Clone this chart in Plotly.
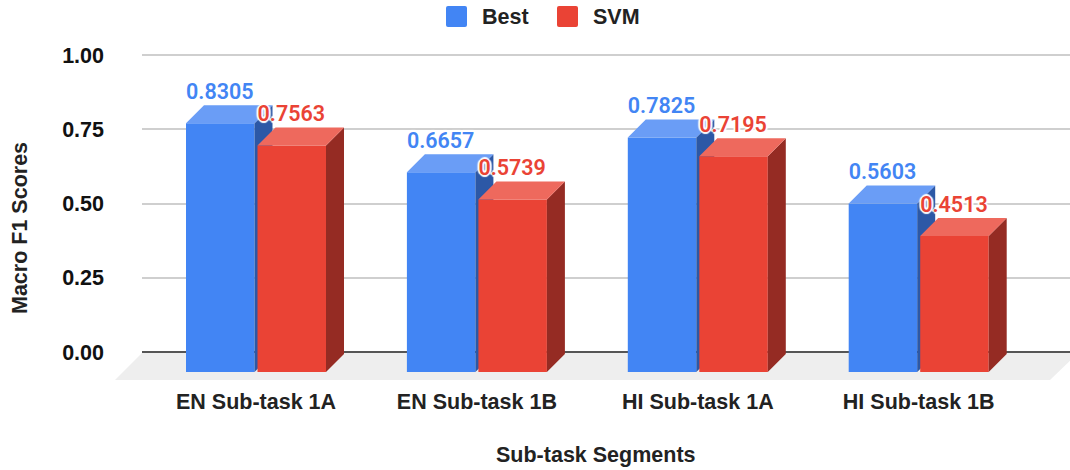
"""Google Sheets style pseudo-3D column chart: Best vs SVM macro F1 scores."""

import plotly.graph_objects as go

categories = ["EN Sub-task 1A", "EN Sub-task 1B", "HI Sub-task 1A", "HI Sub-task 1B"]
best_scores = [0.8305, 0.6657, 0.7825, 0.5603]
svm_scores = [0.7563, 0.5739, 0.7195, 0.4513]
y_ticks = [0, 0.25, 0.5, 0.75, 1]

WIDTH, HEIGHT = 1070, 470
PLOT_L, PLOT_R, PLOT_T, PLOT_B = 142, 1070, 50, 380
ZERO_PX, UNIT_PX = 352, 297      # pixel row of y=0, pixels per 1.0 on y
CAT0_PX, CAT_PX = 256, 220.9     # pixel column of first category, pixels per category

# extrusion of the fake 3D boxes, in data units
DEPTH_X = 18 / CAT_PX
DEPTH_Y = 18 / UNIT_PX
BASE = -20 / UNIT_PX
BAR_W = 68.5 / CAT_PX
BEST_OFFSET = -70 / CAT_PX
SVM_OFFSET = 1.5 / CAT_PX

FONT = "Liberation Sans"
LABEL_FONT = "Roboto"
TEXT_SIZE = 21.5
HALO = "-2px 0 1px #fff, 2px 0 1px #fff, 0 2px 1px #fff, 0 -2px 1px #fff"


def paper_x(px):
    return (px - PLOT_L) / (PLOT_R - PLOT_L)


def paper_y(px):
    return (PLOT_B - px) / (PLOT_B - PLOT_T)


def add_series(fig, name, values, offset, front, top, side, xa, ya):
    """Front faces as bars, top and side faces as filled polygons, then the labels."""
    xs = list(range(len(values)))
    fig.add_trace(go.Bar(
        x=xs, y=[v - DEPTH_Y - BASE for v in values], base=BASE, width=BAR_W,
        offset=offset, name=name,
        marker=dict(color=front, line=dict(width=0)), xaxis=xa, yaxis=ya,
    ))
    top_x, top_y, side_x, side_y = [], [], [], []
    for x, v in zip(xs, values):
        x0 = x + offset
        x1 = x0 + BAR_W
        top_x += [x0, x0 + DEPTH_X, x1 + DEPTH_X, x1, None]
        top_y += [v - DEPTH_Y, v, v, v - DEPTH_Y, None]
        side_x += [x1, x1 + DEPTH_X, x1 + DEPTH_X, x1, None]
        side_y += [v - DEPTH_Y, v, BASE + DEPTH_Y, BASE, None]
    for px_x, px_y, color in ((side_x, side_y, side), (top_x, top_y, top)):
        fig.add_trace(go.Scatter(
            x=px_x, y=px_y, mode="lines", fill="toself", fillcolor=color,
            line=dict(width=0), showlegend=False, hoverinfo="skip", xaxis=xa, yaxis=ya,
        ))
    fig.add_trace(go.Scatter(
        x=[x + offset + BAR_W / 2 - 0.5 / CAT_PX for x in xs],
        y=[v + 1 / UNIT_PX for v in values], mode="text",
        text=[f"{v:.4f}" for v in values], textposition="top center",
        textfont=dict(family=LABEL_FONT, size=TEXT_SIZE, color=front, weight=600, shadow=HALO),
        showlegend=False, hoverinfo="skip", cliponaxis=False, xaxis=xa, yaxis=ya,
    ))


fig = go.Figure()
add_series(fig, "Best", best_scores, BEST_OFFSET, "#4285F4", "#6A9DF6", "#2C58A6", "x", "y")
add_series(fig, "SVM", svm_scores, SVM_OFFSET, "#EA4335", "#EE695D", "#952B23", "x2", "y2")

x_range = [(PLOT_L - CAT0_PX) / CAT_PX, (PLOT_R - CAT0_PX) / CAT_PX]
y_range = [(ZERO_PX - PLOT_B) / UNIT_PX, (ZERO_PX - PLOT_T) / UNIT_PX]


def swatch(x0, x1, y0, y1, color):
    r = 2
    path = (
        f"M{paper_x(x0 + r)},{paper_y(y0)} L{paper_x(x1 - r)},{paper_y(y0)} "
        f"Q{paper_x(x1)},{paper_y(y0)} {paper_x(x1)},{paper_y(y0 + r)} "
        f"L{paper_x(x1)},{paper_y(y1 - r)} Q{paper_x(x1)},{paper_y(y1)} {paper_x(x1 - r)},{paper_y(y1)} "
        f"L{paper_x(x0 + r)},{paper_y(y1)} Q{paper_x(x0)},{paper_y(y1)} {paper_x(x0)},{paper_y(y1 - r)} "
        f"L{paper_x(x0)},{paper_y(y0 + r)} Q{paper_x(x0)},{paper_y(y0)} {paper_x(x0 + r)},{paper_y(y0)} Z"
    )
    return dict(type="path", xref="paper", yref="paper", path=path,
                fillcolor=color, line=dict(width=0))


def label(text, x, y, angle=0):
    return dict(text=f"<b>{text}</b>", xref="paper", yref="paper", x=paper_x(x), y=paper_y(y),
                xanchor="center", yanchor="middle", textangle=angle, showarrow=False)


floor = (
    f"M{paper_x(115)},{paper_y(380)} L{paper_x(142)},{paper_y(353)} "
    f"L{paper_x(1078)},{paper_y(353)} L{paper_x(1050)},{paper_y(380)} Z"
)

fig.update_layout(
    width=WIDTH,
    height=HEIGHT,
    barmode="overlay",
    showlegend=False,
    plot_bgcolor="white",
    paper_bgcolor="white",
    margin=dict(l=PLOT_L, r=WIDTH - PLOT_R, t=PLOT_T, b=HEIGHT - PLOT_B, autoexpand=False),
    font=dict(family=FONT, size=TEXT_SIZE, color="#222222"),
    xaxis=dict(
        range=x_range,
        tickmode="array",
        tickvals=list(range(len(categories))),
        ticktext=categories,
        tickfont=dict(family=FONT, size=TEXT_SIZE, color="#222222", weight="bold"),
        ticks="",
        ticklabelstandoff=6,
        showgrid=False,
        zeroline=False,
    ),
    yaxis=dict(
        range=y_range,
        tickmode="array",
        tickvals=y_ticks,
        tickformat=".2f",
        tickfont=dict(family=FONT, size=TEXT_SIZE, color="#111111", weight="bold"),
        ticks="",
        ticklabelstandoff=37,
        showgrid=True,
        gridcolor="#CFCFCF",
        gridwidth=2,
        zeroline=True,
        zerolinecolor="#555555",
        zerolinewidth=2,
    ),
    xaxis2=dict(overlaying="x", matches="x", visible=False),
    yaxis2=dict(overlaying="y", matches="y", visible=False),
    shapes=[
        dict(type="path", xref="paper", yref="paper", path=floor, layer="below",
             fillcolor="#EEEEEE", line=dict(width=0)),
        swatch(446, 467, 6, 27, "#4285F4"),
        swatch(557, 578, 6, 27, "#EA4335"),
    ],
    annotations=[
        label("Best", 505, 17),
        label("SVM", 616, 17),
        label("Sub-task Segments", 596, 455),
        label("Macro F1 Scores", 20, 228, angle=-90),
    ],
)

# drop the default body margin so the figure fills the window exactly
fig.write_html(
    "out.html",
    config={"displayModeBar": False},
    post_script="document.body.style.margin = '0';",
)
